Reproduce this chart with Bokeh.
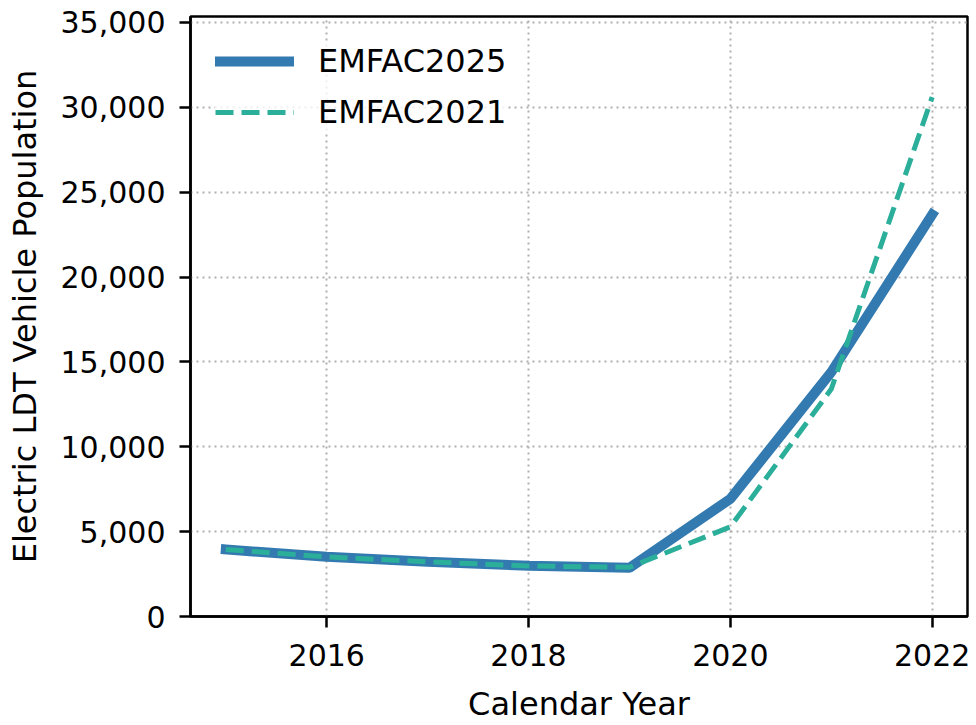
from bokeh.plotting import figure
from bokeh.models import Range1d, FixedTicker, NumeralTickFormatter, Legend, LegendItem
from bokeh.embed import file_html
from bokeh.resources import INLINE

years = [2015, 2016, 2017, 2018, 2019, 2020, 2021, 2022]
emfac2025 = [3950, 3520, 3230, 2990, 2870, 6930, 14400, 23680]
emfac2021 = [3950, 3510, 3220, 2980, 2900, 5280, 13400, 30600]
x_ticks = [2016, 2018, 2020, 2022]
y_ticks = [0, 5000, 10000, 15000, 20000, 25000, 30000, 35000]

FONT = "DejaVu Sans"
TICK_FS = "30px"
LABEL_FS = "32px"
BLUE = "#337ab0"
TEAL = "#2bae9a"

p = figure(width=976, height=725, output_backend="svg", toolbar_location=None,
           x_range=Range1d(2014.65, 2022.35), y_range=Range1d(0, 35350),
           min_border_left=190, min_border_right=9, min_border_top=16, min_border_bottom=107)

r1 = p.line(years, emfac2025, line_color=BLUE, line_width=10, line_cap="square")
r2 = p.line(years, emfac2021, line_color=TEAL, line_width=5, line_dash="18 8")

p.xaxis.ticker = FixedTicker(ticks=x_ticks)
p.yaxis.ticker = FixedTicker(ticks=y_ticks)
p.yaxis.formatter = NumeralTickFormatter(format="0,0")
p.xaxis.axis_label = "Calendar Year"
p.yaxis.axis_label = "Electric LDT Vehicle Population"

for ax in (p.xaxis, p.yaxis):
    ax.major_label_text_font = FONT
    ax.major_label_text_font_size = TICK_FS
    ax.major_label_text_color = "black"
    ax.axis_label_text_font = FONT
    ax.axis_label_text_font_size = LABEL_FS
    ax.axis_label_text_font_style = "normal"
    ax.axis_label_text_color = "black"
    ax.major_tick_in = 0
    ax.major_tick_out = 11
    ax.major_tick_line_width = 2.5
    ax.major_tick_line_color = "black"
    ax.minor_tick_line_color = None
    ax.axis_line_width = 2.5
    ax.axis_line_color = "black"
p.xaxis.major_label_standoff = 16
p.yaxis.major_label_standoff = 14
p.xaxis.axis_label_standoff = 16
p.yaxis.axis_label_standoff = 14

p.xgrid.ticker = FixedTicker(ticks=x_ticks)
p.ygrid.ticker = FixedTicker(ticks=y_ticks)
for g in (p.xgrid, p.ygrid):
    g.grid_line_color = "#b0b0b0"
    g.grid_line_width = 2
    g.grid_line_dash = "2 4"

p.outline_line_color = "black"
p.outline_line_width = 2.5
p.outline_line_alpha = 1

legend = Legend(items=[LegendItem(label="EMFAC2025", renderers=[r1]),
                       LegendItem(label="EMFAC2021", renderers=[r2])],
                location="top_left")
legend.label_text_font = FONT
legend.label_text_font_size = LABEL_FS
legend.label_text_color = "black"
legend.glyph_width = 79
legend.glyph_height = 40
legend.label_height = 40
legend.spacing = 11
legend.label_standoff = 24
legend.margin = 25
legend.padding = 0
legend.border_line_color = None
legend.background_fill_color = "white"
legend.background_fill_alpha = 0.8
p.add_layout(legend)

open("out.html", "w").write(file_html(p, INLINE))
